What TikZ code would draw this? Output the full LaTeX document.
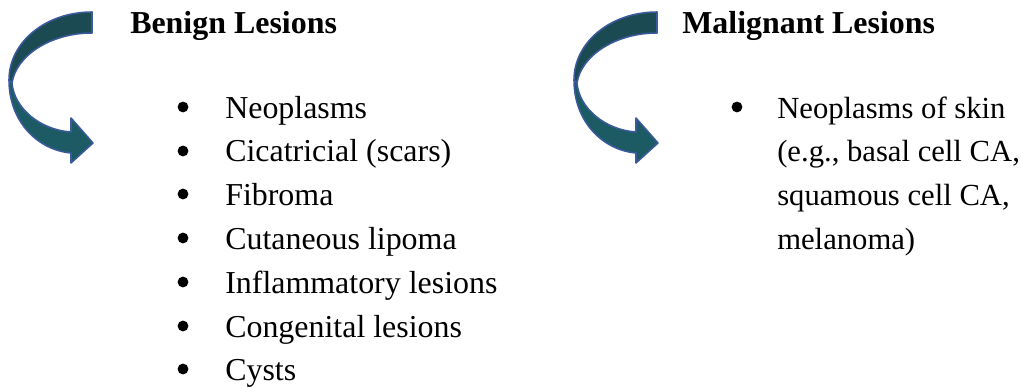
\documentclass[tikz,border=0pt]{standalone}
\usepackage{fontspec}
\setmainfont{Liberation Serif}
\usepackage{tikz}
\usetikzlibrary{positioning}
\definecolor{bandtop}{HTML}{1B4A53}
\definecolor{bandbot}{HTML}{1C5B64}
\definecolor{rim}{HTML}{3B5A9C}
\tikzset{
  title/.style={font=\fontsize{22.7}{27}\selectfont\bfseries, anchor=base west, inner sep=0pt},
  entry/.style={font=\fontsize{22.7}{27}\selectfont, anchor=base west, inner sep=0pt},
  narrow/.style={entry, font=\fontsize{21.8}{26}\selectfont},
  bul/.style={circle, fill=black, inner sep=0pt, minimum size=0.27cm},
  band/.style={draw=rim, line width=1.1pt, line join=round},
}
\def\bendarrow(#1)% Syntax: (shift in px)
    { \begin{scope}[shift={(#1,0)}]
        \draw[band, fill=bandbot] (9,80) .. controls (9,122) and (38,150) .. (71,153) -- (71,163) -- (93,143) -- (71,118) -- (71,132) .. controls (40,130) and (14,108) .. (12,83) -- cycle;
        \draw[band, fill=bandtop] (92,12) .. controls (46,12) and (9,42) .. (9,80) -- (12,83) .. controls (16,56) and (50,33) .. (92,33) -- cycle;
      \end{scope} }

\begin{document}
\begin{tikzpicture}[x=0.025cm,y=-0.025cm]
   \useasboundingbox (0,0) rectangle (1021,387);

   % benign side
   \bendarrow(0)
   \node[title] (benign) at (130,34) {Benign Lesions};
   \node[bul] (d1) at (183,107) {};
   \node[entry] (b1) at (225,118) {Neoplasms};
   \node[bul] (d2) at (183,151) {};
   \node[entry] (b2) at (225,162) {Cicatricial (scars)};
   \node[bul] (d3) at (183,194) {};
   \node[entry] (b3) at (225,205) {Fibroma};
   \node[bul] (d4) at (183,238) {};
   \node[entry] (b4) at (225,249) {Cutaneous lipoma};
   \node[bul] (d5) at (183,282) {};
   \node[entry] (b5) at (225,293) {Inflammatory lesions};
   \node[bul] (d6) at (183,326) {};
   \node[entry] (b6) at (225,337) {Congenital lesions};
   \node[bul] (d7) at (183,369) {};
   \node[entry] (b7) at (225,380) {Cysts};

   % malignant side
   \bendarrow(565)
   \node[title] (malignant) at (682,34) {Malignant Lesions};
   \node[bul] (m0) at (737,107) {};
   \node[narrow] (m1) at (777,118) {Neoplasms of skin};
   \node[narrow] (m2) at (777,162) {(e.g., basal cell CA,};
   \node[narrow] (m3) at (777,205) {squamous cell CA,};
   \node[narrow] (m4) at (777,249) {melanoma)};
\end{tikzpicture}
\end{document}
